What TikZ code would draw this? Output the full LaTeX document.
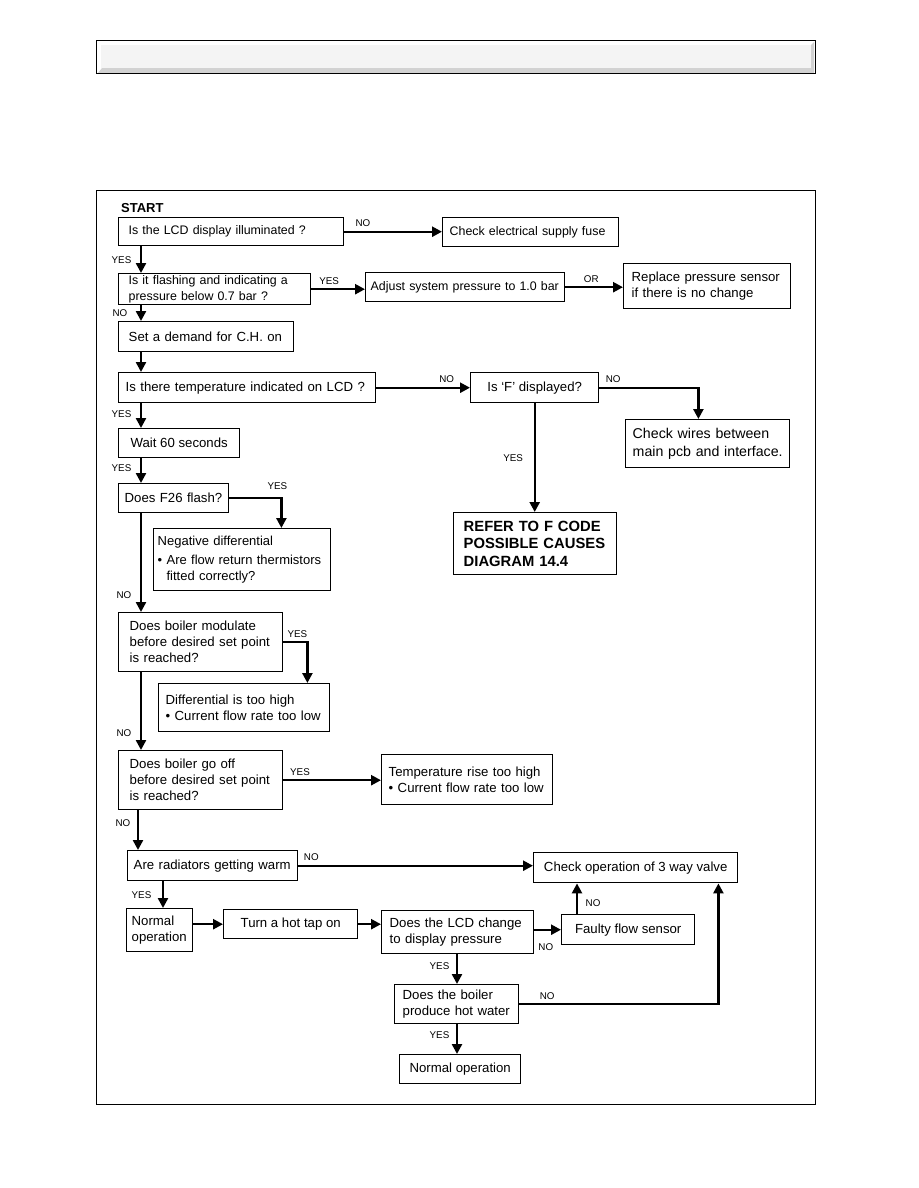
\documentclass[tikz,border=0pt]{standalone}
\usepackage{fontspec}
\setmainfont{Liberation Sans}
\usetikzlibrary{arrows.meta, positioning}

\newcommand\smallbox{\fontsize{12.4}{15.2}\selectfont}
\newcommand\mainbox{\fontsize{13.2}{16}\selectfont}
\newcommand\lblsize{\fontsize{9.8}{11}\selectfont}

\begin{document}
\begin{tikzpicture}[x=1pt, y=-1pt,
  box/.style={draw, line width=1.4pt, fill=white, anchor=north west, align=left, inner ysep=2pt, font=\mainbox},
  cbox/.style={box, align=center},
  arr/.style={-{Triangle[length=10pt, width=10pt]}, line width=2.4pt},
  lbl/.style={font=\lblsize, inner sep=1.5pt},
]
  \useasboundingbox (0,0) rectangle (918,1188);

  % Header bar
  \fill[white] (96,41) rectangle (815,74);
  \fill[gray!35] (98,73) -- (814,73) -- (814,42) -- (811,45) -- (811,68) -- (102,68) -- cycle;
  \fill[gray!9] (101,45) rectangle (811,68);
  \draw[line width=1pt] (96,41) rectangle (815,74);

  % Frame
  \draw[line width=0.8pt] (96,190) rectangle (815,1104);

  \node[font=\fontsize{13}{15}\selectfont\bfseries, anchor=base west, inner sep=0pt] (start) at (121,212) {START};

  % Pressure checks
  \node[box, font=\smallbox, inner xsep=10pt, text width=205pt, minimum height=28pt] (lcd) at (118,217) {Is the LCD display illuminated ?};
  \node[box, font=\smallbox, inner xsep=7pt, text width=162pt, minimum height=29pt] (fuse) at (442,217) {Check electrical supply fuse};
  \node[box, font=\smallbox, inner xsep=10pt, text width=172pt, minimum height=31pt] (flash) at (118,273) {Is it flashing and indicating a\\pressure below 0.7 bar ?};
  \node[box, font=\smallbox, inner xsep=5pt, text width=189pt, minimum height=29pt] (adjust) at (365,272) {Adjust system pressure to 1.0 bar};
  \node[box, font=\fontsize{13.2}{15.3}\selectfont, inner xsep=8pt, text width=151pt, minimum height=45pt] (replace) at (623,263) {Replace pressure sensor\\if there is no change};
  \node[box, inner xsep=10pt, text width=155pt, minimum height=30pt] (demand) at (118,321) {Set a demand for C.H. on};

  % Temperature and F codes
  \node[box, inner xsep=7pt, text width=243pt, minimum height=30pt] (temp) at (118,372) {Is there temperature indicated on LCD ?};
  \node[cbox, minimum width=128pt, minimum height=30pt] (isF) at (470,372) {Is ‘F’ displayed?};
  \node[box, font=\fontsize{14.2}{17.3}\selectfont, inner xsep=7pt, text width=150pt, minimum height=48pt] (wires) at (625,419) {Check wires between\\main pcb and interface.};
  \node[box, font=\fontsize{14.8}{17.5}\selectfont\bfseries, inner xsep=10pt, text width=143pt, minimum height=62pt] (refer) at (453,512) {REFER TO F CODE\\POSSIBLE CAUSES\\DIAGRAM 14.4};
  \node[cbox, minimum width=121pt, minimum height=29pt] (wait) at (118,428) {Wait 60 seconds};
  \node[box, inner xsep=6pt, text width=98pt, minimum height=29pt] (f26) at (118,483) {Does F26 flash?};
  \node[box, font=\fontsize{13}{16.5}\selectfont, inner xsep=4pt, text width=169pt, minimum height=62pt] (neg) at (153,528) {Negative differential\\[2pt]• Are flow return thermistors\\\phantom{• }fitted correctly?};

  % Boiler behaviour
  \node[box, inner xsep=11pt, text width=142pt, minimum height=59pt] (modul) at (118,612) {Does boiler modulate\\before desired set point\\is reached?};
  \node[box, inner xsep=7pt, text width=157pt, minimum height=48pt] (diffhi) at (158,683) {Differential is too high\\• Current flow rate too low};
  \node[box, inner xsep=11pt, text width=142pt, minimum height=59pt] (gooff) at (118,750) {Does boiler go off\\before desired set point\\is reached?};
  \node[box, inner xsep=7pt, text width=157pt, minimum height=50pt] (trise) at (381,754) {Temperature rise too high\\• Current flow rate too low};

  % Radiators and hot water
  \node[box, inner xsep=6pt, text width=158pt, minimum height=30pt] (radi) at (127,850) {Are radiators getting warm};
  \node[cbox, minimum width=204pt, minimum height=30pt] (valve) at (533,852) {Check operation of 3 way valve};
  \node[box, inner xsep=5pt, text width=56pt, minimum height=43pt] (norm1) at (126,908) {Normal\\operation};
  \node[cbox, minimum width=134pt, minimum height=29pt] (tap) at (223,909) {Turn a hot tap on};
  \node[box, inner xsep=8pt, text width=136pt, minimum height=43pt] (lcdch) at (381,910) {Does the LCD change\\to display pressure};
  \node[cbox, minimum width=133pt, minimum height=30pt] (faulty) at (561,914) {Faulty flow sensor};
  \node[box, inner xsep=8pt, text width=108pt, minimum height=39pt] (hotw) at (394,984) {Does the boiler\\produce hot water};
  \node[cbox, minimum width=121pt, minimum height=29pt] (norm2) at (399,1054) {Normal operation};

  % Arrows
  \draw[arr] (lcd.east) -- (lcd.east -| fuse.west) node[lbl, pos=0.19, above=2pt] {NO};
  \draw[arr] ([xshift=23pt]lcd.south west) -- ([xshift=23pt]lcd.south west |- flash.north) node[lbl, midway, left=7pt] {YES};
  \draw[arr] (flash.east) -- (flash.east -| adjust.west) node[lbl, pos=0.33, above=2pt] {YES};
  \draw[arr] (adjust.east) -- (adjust.east -| replace.west) node[lbl, pos=0.45, above=2pt] {OR};
  \draw[arr] ([xshift=23pt]flash.south west) -- ([xshift=23pt]flash.south west |- demand.north) node[lbl, midway, left=11pt] {NO};
  \draw[arr] ([xshift=23pt]demand.south west) -- ([xshift=23pt]demand.south west |- temp.north);

  \draw[arr] (temp.east) -- (temp.east -| isF.west) node[lbl, pos=0.75, above=2pt] {NO};
  \draw[arr] (isF.east) -| ([xshift=-92pt]wires.north east) node[lbl, pos=0.07, above=2pt] {NO};
  \draw[arr] (isF.south) -- (isF.south |- refer.north) node[lbl, midway, left=9pt] {YES};
  \draw[arr] ([xshift=23pt]temp.south west) -- ([xshift=23pt]temp.south west |- wait.north) node[lbl, pos=0.45, left=7pt] {YES};
  \draw[arr] ([xshift=23pt]wait.south west) -- ([xshift=23pt]wait.south west |- f26.north) node[lbl, pos=0.4, left=7pt] {YES};
  \draw[arr] (f26.east) -| ([xshift=-50pt]neg.north east) node[lbl, pos=0.5, above=6pt, xshift=-4pt] {YES};
  \draw[arr] ([xshift=23pt]f26.south west) -- ([xshift=23pt]f26.south west |- modul.north) node[lbl, pos=0.83, left=7pt] {NO};

  \draw[arr] (modul.east) -| ([xshift=-23pt]diffhi.north east) node[lbl, pos=0.5, above=2pt, xshift=-10pt] {YES};
  \draw[arr] ([xshift=23pt]modul.south west) -- ([xshift=23pt]modul.south west |- gooff.north) node[lbl, pos=0.78, left=7pt] {NO};
  \draw[arr] (gooff.east) -- (gooff.east -| trise.west) node[lbl, pos=0.17, above=2pt] {YES};
  \draw[arr] ([xshift=20pt]gooff.south west) -- ([xshift=20pt]gooff.south west |- radi.north) node[lbl, pos=0.33, left=5pt] {NO};

  \draw[arr] (radi.east) -- (radi.east -| valve.west) node[lbl, pos=0.055, above=2pt] {NO};
  \draw[arr] ([xshift=36pt]radi.south west) -- ([xshift=36pt]radi.south west |- norm1.north) node[lbl, midway, left=9pt] {YES};
  \draw[arr] (tap.west -| norm1.east) -- (tap.west);
  \draw[arr] (tap.east) -- (tap.east -| lcdch.west);
  \draw[arr] (faulty.west -| lcdch.east) -- (faulty.west) node[lbl, pos=0.43, below=11pt] {NO};
  \draw[arr] ([xshift=16pt]faulty.north west) -- ([xshift=16pt]faulty.north west |- valve.south) node[lbl, pos=0.35, right=6pt] {NO};
  \draw[arr] ([xshift=76pt]lcdch.south west) -- ([xshift=76pt]lcdch.south west |- hotw.north) node[lbl, pos=0.4, left=5pt] {YES};
  \draw[arr] (hotw.east) -| ([xshift=-20pt]valve.south east) node[lbl, pos=0.07, above=2pt] {NO};
  \draw[arr] ([xshift=63pt]hotw.south west) -- ([xshift=63pt]hotw.south west |- norm2.north) node[lbl, pos=0.35, left=5pt] {YES};

\end{tikzpicture}
\end{document}
